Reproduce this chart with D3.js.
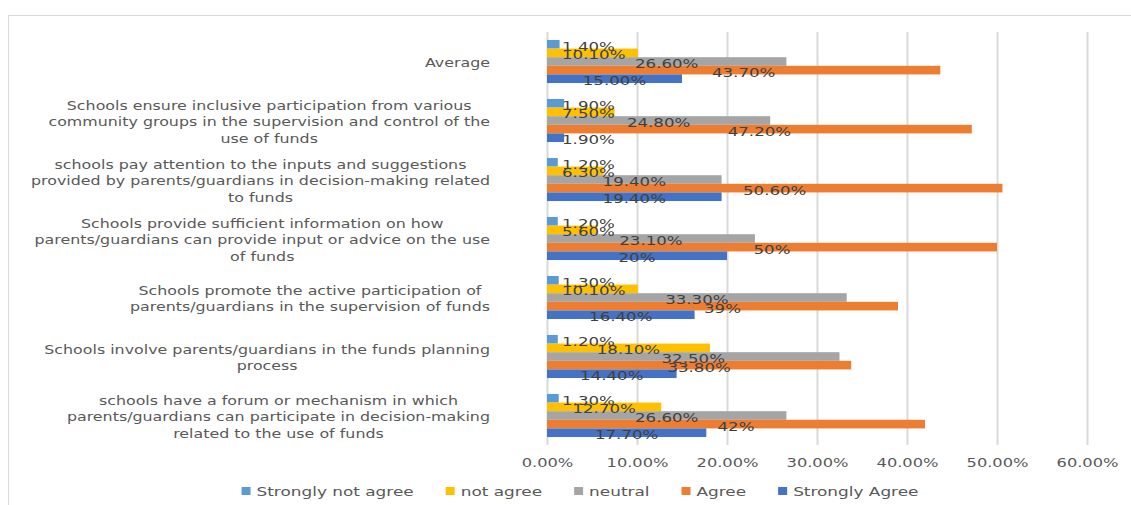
<!DOCTYPE html>
<html>
<head>
<meta charset="utf-8">
<script src="https://d3js.org/d3.v7.min.js"></script>
<style>
  body { margin: 0; background: #fff; }
  text { font-family: 'DejaVu Sans', sans-serif; font-size: 13px; }
</style>
</head>
<body>
<script>
  // data
  var categories = [
    "Average",
    "Schools ensure inclusive participation from various\ncommunity groups in the supervision and control of the\nuse of funds",
    "schools pay attention to the inputs and suggestions\nprovided by parents/guardians in decision-making related\nto funds",
    "Schools provide sufficient information on how\nparents/guardians can provide input or advice on the use\nof funds",
    "Schools promote the active participation of\nparents/guardians in the supervision of funds",
    "Schools involve parents/guardians in the funds planning\nprocess",
    "schools have a forum or mechanism in which\nparents/guardians can participate in decision-making\nrelated to the use of funds"
  ];
  var seriesNames = ["Strongly not agree", "not agree", "neutral", "Agree", "Strongly Agree"];
  var seriesColors = ["#5B9BD5", "#FFC000", "#A5A5A5", "#ED7D31", "#4472C4"];
  var stronglyNotAgree = ["1.40%", "1.90%", "1.20%", "1.20%", "1.30%", "1.20%", "1.30%"];
  var notAgree = ["10.10%", "7.50%", "6.30%", "5.60%", "10.10%", "18.10%", "12.70%"];
  var neutral = ["26.60%", "24.80%", "19.40%", "23.10%", "33.30%", "32.50%", "26.60%"];
  var agree = ["43.70%", "47.20%", "50.60%", "50%", "39%", "33.80%", "42%"];
  var stronglyAgree = ["15.00%", "1.90%", "19.40%", "20%", "16.40%", "14.40%", "17.70%"];
  var xTicks = [0, 10, 20, 30, 40, 50, 60];

  var series = [stronglyNotAgree, notAgree, neutral, agree, stronglyAgree];

  var width = 1131, height = 505;
  var SX = 1.22;   // horizontal stretch of the text, like the original
  var SXL = 1.3;   // legend text is a bit wider

  var svg = d3.select("body").append("svg")
    .attr("width", width)
    .attr("height", height);

  svg.append("rect")
    .attr("x", 8.5).attr("y", 15.5)
    .attr("width", width).attr("height", height)
    .style("fill", "#fff")
    .style("stroke", "#D9D9D9");

  var x = d3.scaleLinear().domain([0, 60]).range([547, 1087]);
  var y = d3.scaleBand().domain(d3.range(categories.length))
    .range([32, 445]).paddingInner(0.27).paddingOuter(0.135);
  var y1 = d3.scaleBand().domain(d3.range(seriesNames.length))
    .range([0, y.bandwidth()]);

  // gridlines + tick labels
  var axis = svg.append("g")
    .attr("transform", "translate(0,445)")
    .call(d3.axisBottom(x).tickValues(xTicks).tickSize(-413)
      .tickFormat(function(d) { return d.toFixed(2) + "%"; }));
  axis.select(".domain").remove();
  axis.selectAll("line").style("stroke", "#D9D9D9").style("stroke-width", 2);
  axis.selectAll("text")
    .attr("y", 0).attr("dy", 0)
    .attr("transform", "translate(0,22) scale(" + 1.25 + ",1)")
    .style("fill", "#595959")
    .style("font-family", "'DejaVu Sans', sans-serif")
    .style("font-size", "13px");

  // bars
  var groups = svg.selectAll(".grp")
    .data(categories)
    .enter().append("g")
    .attr("class", "grp")
    .attr("transform", function(d, i) { return "translate(0," + y(i) + ")"; });

  groups.each(function(c, i) {
    var g = d3.select(this);
    series.forEach(function(s, k) {
      var v = parseFloat(s[i]);
      g.append("rect")
        .attr("x", x(0))
        .attr("y", y1(k))
        .attr("width", x(v) - x(0))
        .attr("height", y1.bandwidth())
        .style("fill", seriesColors[k]);
    });
    series.forEach(function(s, k) {
      var v = parseFloat(s[i]);
      var t = g.append("text")
        .text(s[i])
        .attr("text-anchor", "middle")
        .attr("dy", "0.42em")
        .style("fill", "#404040");
      var w = t.node().getComputedTextLength() * 1.28;
      var cx = (x(0) + x(v)) / 2;
      var left = Math.max(cx - w / 2, x(0) + 15);
      t.attr("transform", "translate(" + (left + w / 2) + "," + (y1(k) + y1.bandwidth() / 2 + 1) + ") scale(1.28,1)");
    });

    // category label, lines centred inside a right aligned block
    var lines = c.split("\n");
    var lh = 16.5;
    var lab = g.append("g");
    var ts = lines.map(function(l) {
      return lab.append("text").text(l)
        .attr("text-anchor", "middle")
        .attr("dy", "0.35em")
        .style("fill", "#595959");
    });
    var maxW = d3.max(ts, function(t) { return t.node().getComputedTextLength() * SX; });
    var cx = 490 - maxW / 2;
    ts.forEach(function(t, j) {
      var yy = y.bandwidth() / 2 + (j - (lines.length - 1) / 2) * lh + 1;
      t.attr("transform", "translate(" + cx + "," + yy + ") scale(" + SX + ",1)");
    });
  });

  // legend
  var legend = svg.append("g");
  var pos = 0;
  seriesNames.forEach(function(n, k) {
    var it = legend.append("g").attr("transform", "translate(" + pos + ",0)");
    it.append("rect")
      .attr("x", 0).attr("y", -4)
      .attr("width", 9).attr("height", 8)
      .style("fill", seriesColors[k]);
    var t = it.append("text").text(n)
      .attr("dy", "0.35em")
      .attr("transform", "translate(15,0) scale(" + SXL + ",1)")
      .style("fill", "#595959");
    pos += 15 + t.node().getComputedTextLength() * SXL + 32;
  });
  pos -= 32;
  legend.attr("transform", "translate(" + (580 - pos / 2) + ",491)");
</script>
</body>
</html>
